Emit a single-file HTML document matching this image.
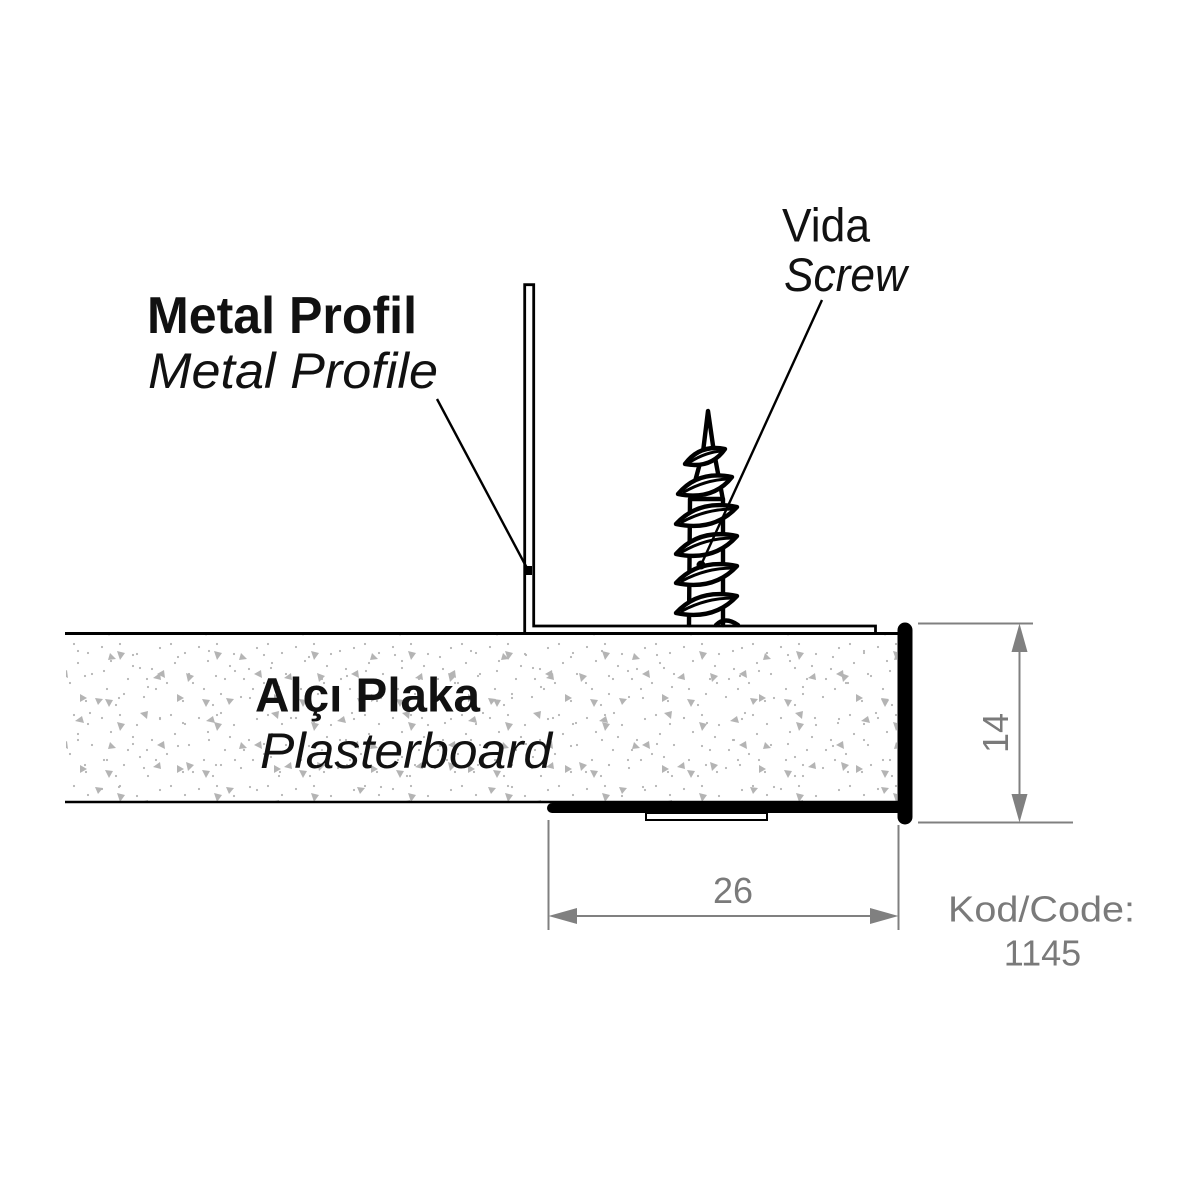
<!DOCTYPE html>
<html>
<head>
<meta charset="utf-8">
<style>
html,body{margin:0;padding:0;background:#fff;}
svg{display:block;}
</style>
</head>
<body>
<svg width="1200" height="1200" viewBox="0 0 1200 1200" xmlns="http://www.w3.org/2000/svg">
<defs>
<pattern id="pa" width="97" height="71" patternUnits="userSpaceOnUse">
<g fill="#b4b4b4">
<circle cx="5" cy="8" r="1.1"/><circle cx="14" cy="22" r="1.1"/><circle cx="23" cy="5" r="1.1"/><circle cx="31" cy="40" r="1.1"/><circle cx="40" cy="15" r="1.1"/><circle cx="47" cy="58" r="1.1"/><circle cx="55" cy="30" r="1.1"/><circle cx="63" cy="9" r="1.1"/><circle cx="70" cy="44" r="1.1"/><circle cx="78" cy="24" r="1.1"/><circle cx="86" cy="62" r="1.1"/><circle cx="92" cy="35" r="1.1"/><circle cx="10" cy="50" r="1.1"/><circle cx="19" cy="66" r="1.1"/><circle cx="36" cy="27" r="1.1"/><circle cx="59" cy="50" r="1.1"/><circle cx="74" cy="5" r="1.1"/><circle cx="88" cy="14" r="1.1"/><circle cx="27" cy="55" r="1.1"/><circle cx="50" cy="40" r="1.1"/>
<path d="M20,12 l8,2 -5,7z"/><path d="M60,35 l7,-4 1,8z"/><path d="M8,60 l8,1 -4,7z"/><path d="M80,55 l7,4 -7,4z"/>
</g>
</pattern>
<pattern id="pb" width="131" height="89" patternUnits="userSpaceOnUse" x="40" y="20">
<g fill="#b4b4b4">
<circle cx="7" cy="14" r="1.1"/><circle cx="22" cy="40" r="1.1"/><circle cx="38" cy="8" r="1.1"/><circle cx="50" cy="70" r="1.1"/><circle cx="64" cy="28" r="1.1"/><circle cx="79" cy="55" r="1.1"/><circle cx="93" cy="12" r="1.1"/><circle cx="108" cy="44" r="1.1"/><circle cx="120" cy="75" r="1.1"/><circle cx="12" cy="80" r="1.1"/><circle cx="45" cy="33" r="1.1"/><circle cx="100" cy="25" r="1.1"/>
<path d="M15,30 l8,3 -6,6z"/><path d="M70,10 l6,6 -8,1z"/><path d="M100,70 l8,-2 -1,8z"/><path d="M35,78 l7,-5 2,7z"/><path d="M120,30 l-7,5 8,2z"/><path d="M55,55 l8,1 -5,6z"/>
</g>
</pattern>
</defs>

<rect width="1200" height="1200" fill="#fff"/>

<!-- plasterboard -->
<rect x="66" y="635" width="831" height="166" fill="url(#pa)"/>
<rect x="66" y="635" width="831" height="166" fill="url(#pb)"/>
<line x1="65" y1="633.5" x2="898" y2="633.5" stroke="#000" stroke-width="3"/>
<line x1="65" y1="802" x2="898" y2="802" stroke="#000" stroke-width="2.5"/>

<!-- metal profile -->
<path d="M524.7,633 L524.7,284.7 L533.7,284.7 L533.7,626 L875.5,626 L875.5,633" fill="none" stroke="#000" stroke-width="2.8"/>

<!-- trim -->
<line x1="905" y1="630" x2="905" y2="817" stroke="#000" stroke-width="15" stroke-linecap="round"/>
<line x1="552" y1="808" x2="905" y2="808" stroke="#000" stroke-width="10" stroke-linecap="round"/>
<rect x="646" y="813" width="121" height="7" fill="#fff" stroke="#000" stroke-width="2"/>

<!-- screw -->
<g stroke="#000" stroke-width="4.4" fill="#fff" stroke-linejoin="round" stroke-linecap="round">
<polyline points="703,452 690,500 689,625" fill="none"/>
<polyline points="714,452 723,500 723,625" fill="none"/>
<line x1="690" y1="499" x2="723" y2="499"/>
<polygon points="708,411 702.5,456 714.5,456"/>
<path d="M685,464 Q700,444 725,449 Q711,469 685,464Z"/>
<path d="M678,494 Q698,470 732,477 Q713,501 678,494Z"/>
<path d="M676,524 Q699,499 737,507 Q714,532 676,524Z"/>
<path d="M676,554 Q699,528 737,536 Q714,562 676,554Z"/>
<path d="M676,583 Q699,558 737,566 Q714,591 676,583Z"/>
<path d="M676,613 Q699,588 737,596 Q714,621 676,613Z"/>
<g fill="none" stroke-width="3">
<path d="M690,462 Q706,452 722,451"/>
<path d="M684,492 Q705,480 728,479"/>
<path d="M682,522 Q706,509 733,509"/>
<path d="M682,552 Q706,538 733,538"/>
<path d="M682,581 Q706,568 733,568"/>
<path d="M682,611 Q706,598 733,598"/>
</g>
<path d="M716,625 Q725,616 738,625" fill="none"/>
</g>

<!-- leaders -->
<line x1="437" y1="399" x2="528" y2="570" stroke="#000" stroke-width="2.4"/>
<rect x="526" y="566" width="6" height="9" fill="#000"/>
<line x1="822" y1="300" x2="701" y2="565" stroke="#000" stroke-width="2.4"/>
<circle cx="701" cy="565" r="4.5" fill="#000"/>

<!-- dimensions -->
<g stroke="#808080" stroke-width="2" fill="none">
<line x1="918" y1="623.5" x2="1033" y2="623.5"/>
<line x1="918" y1="822.5" x2="1073" y2="822.5"/>
<line x1="1019.5" y1="630" x2="1019.5" y2="816"/>
<line x1="548.5" y1="820" x2="548.5" y2="930"/>
<line x1="898.5" y1="825" x2="898.5" y2="930"/>
<line x1="555" y1="916" x2="892" y2="916"/>
</g>
<g fill="#808080">
<polygon points="1019.5,623.5 1011.5,652 1027.5,652"/>
<polygon points="1019.5,822.5 1011.5,794 1027.5,794"/>
<polygon points="548.5,916 577,908 577,924"/>
<polygon points="898.5,916 870,908 870,924"/>
</g>

<!-- texts -->
<g font-family="'Liberation Sans', 'DejaVu Sans', sans-serif">
<text x="147" y="333" font-size="52" font-weight="600" fill="#111" textLength="270" lengthAdjust="spacingAndGlyphs">Metal Profil</text>
<text x="148" y="388" font-size="50" font-style="italic" fill="#111" textLength="290" lengthAdjust="spacingAndGlyphs">Metal Profile</text>
<text x="782" y="241.5" font-size="47" fill="#111" textLength="88" lengthAdjust="spacingAndGlyphs">Vida</text>
<text x="784" y="291" font-size="47" font-style="italic" fill="#111" textLength="123" lengthAdjust="spacingAndGlyphs">Screw</text>
<text x="255" y="711.5" font-size="48" font-weight="600" fill="#111" textLength="225" lengthAdjust="spacingAndGlyphs">Alçı Plaka</text>
<text x="260" y="768" font-size="50" font-style="italic" fill="#111" textLength="292" lengthAdjust="spacingAndGlyphs">Plasterboard</text>
<text x="733" y="903" font-size="36" fill="#7a7a7a" text-anchor="middle">26</text>
<text transform="translate(1008,733) rotate(-90)" x="0" y="0" font-size="36" fill="#7a7a7a" text-anchor="middle">14</text>
<text x="948" y="921.5" font-size="36" fill="#7a7a7a" textLength="187" lengthAdjust="spacingAndGlyphs">Kod/Code:</text>
<text x="1042.5" y="965.5" font-size="36" fill="#7a7a7a" text-anchor="middle">1145</text>
</g>
</svg>
</body>
</html>
